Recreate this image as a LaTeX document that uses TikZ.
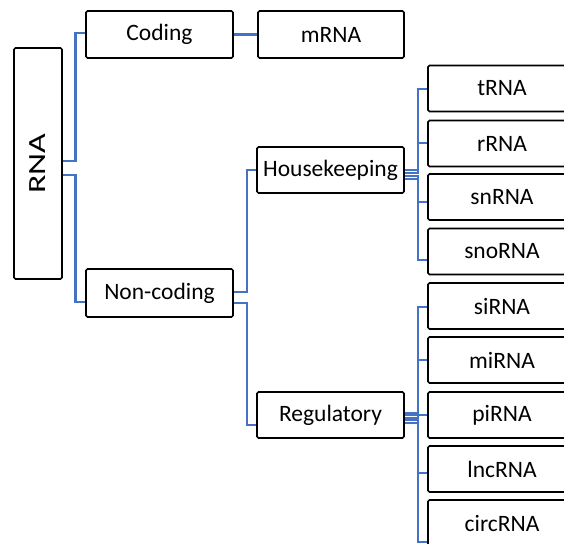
\documentclass[tikz,border=0pt]{standalone}
\usepackage{fontspec}
\setmainfont{Carlito}
\definecolor{connblue}{RGB}{68,114,196}
\begin{document}
\begin{tikzpicture}[x=1pt,y=-1pt,
  box/.style={draw=black, line width=1.7pt, rounded corners=1.5pt, inner sep=0pt,
    minimum width=147pt, minimum height=46pt, font=\fontsize{23.5}{28}\selectfont},
  conn/.style={draw=connblue, line width=2.4pt}]
\useasboundingbox (0,0) rectangle (564,543);
\clip (0,0) rectangle (564,543);
% connectors first (behind boxes)
\path (38,163.5) coordinate (rnac);
% nodes
\node[box, minimum width=48pt, minimum height=231pt] (rna) at (38,163.5)
  {\rotatebox{90}{\scalebox{1.45}[1.05]{RNA}}};
\node[box, minimum height=47pt] (coding) at (159.5,34.5) {Coding};
\node[box, minimum width=146pt, minimum height=47pt] (mrna) at (331,34.5) {mRNA};
\node[box, minimum height=48pt] (noncoding) at (159.5,293) {Non-coding};
\node[box] (hk) at (330.5,170) {Housekeeping};
\node[box] (reg) at (330.5,415) {Regulatory};
\node[box, minimum width=148pt] (trna) at (502,88.5) {tRNA};
\node[box, minimum width=148pt] (rrna) at (502,143.5) {rRNA};
\node[box, minimum width=148pt] (snrna) at (502,197) {snRNA};
\node[box, minimum width=148pt] (snorna) at (502,251.5) {snoRNA};
\node[box, minimum width=148pt] (sirna) at (502,306) {siRNA};
\node[box, minimum width=148pt] (mirna) at (502,360) {miRNA};
\node[box, minimum width=148pt] (pirna) at (502,415) {piRNA};
\node[box, minimum width=148pt] (lncrna) at (502,469) {lncRNA};
\node[box, minimum width=148pt] (circrna) at (502,523) {circRNA};
% connectors
\draw[conn] ([yshift=2.5pt]rna.east) -- ++(12.5,0) |- ([yshift=1.5pt]coding.west);
\draw[conn] ([yshift=-11.5pt]rna.east) -- ++(12.5,0) |- ([yshift=-9pt]noncoding.west);
\draw[conn, line width=3.2pt] (coding.east) -- (mrna.west);
\draw[conn] ([yshift=1pt]noncoding.east) -- ++(13,0) |- (hk.west);
\draw[conn] ([yshift=-10pt]noncoding.east) -- ++(13,0) |- ([yshift=-10pt]reg.west);
\draw[conn] (hk.east) -- ++(13,0) |- ([yshift=-0.5pt]trna.west);
\draw[conn] ([yshift=-3pt]hk.east) -- ++(13,0) |- ([yshift=0.5pt]rrna.west);
\draw[conn] ([yshift=-6pt]hk.east) -- ++(13,0) |- ([yshift=-5pt]snrna.west);
\draw[conn] ([yshift=-9pt]hk.east) -- ++(13,0) |- ([yshift=-8.5pt]snorna.west);
\draw[conn] ([yshift=2pt]reg.east) -- ++(13,0) |- ([yshift=-1pt]sirna.west);
\draw[conn] (reg.east) -- ++(13,0) |- (mirna.west);
\draw[conn] ([yshift=-3pt]reg.east) -- ++(13,0) |- (pirna.west);
\draw[conn] ([yshift=-5pt]reg.east) -- ++(13,0) |- ([yshift=-4pt]lncrna.west);
\draw[conn] ([yshift=-8pt]reg.east) -- ++(13,0) |- ([yshift=-19pt]circrna.west);
\end{tikzpicture}
\end{document}
